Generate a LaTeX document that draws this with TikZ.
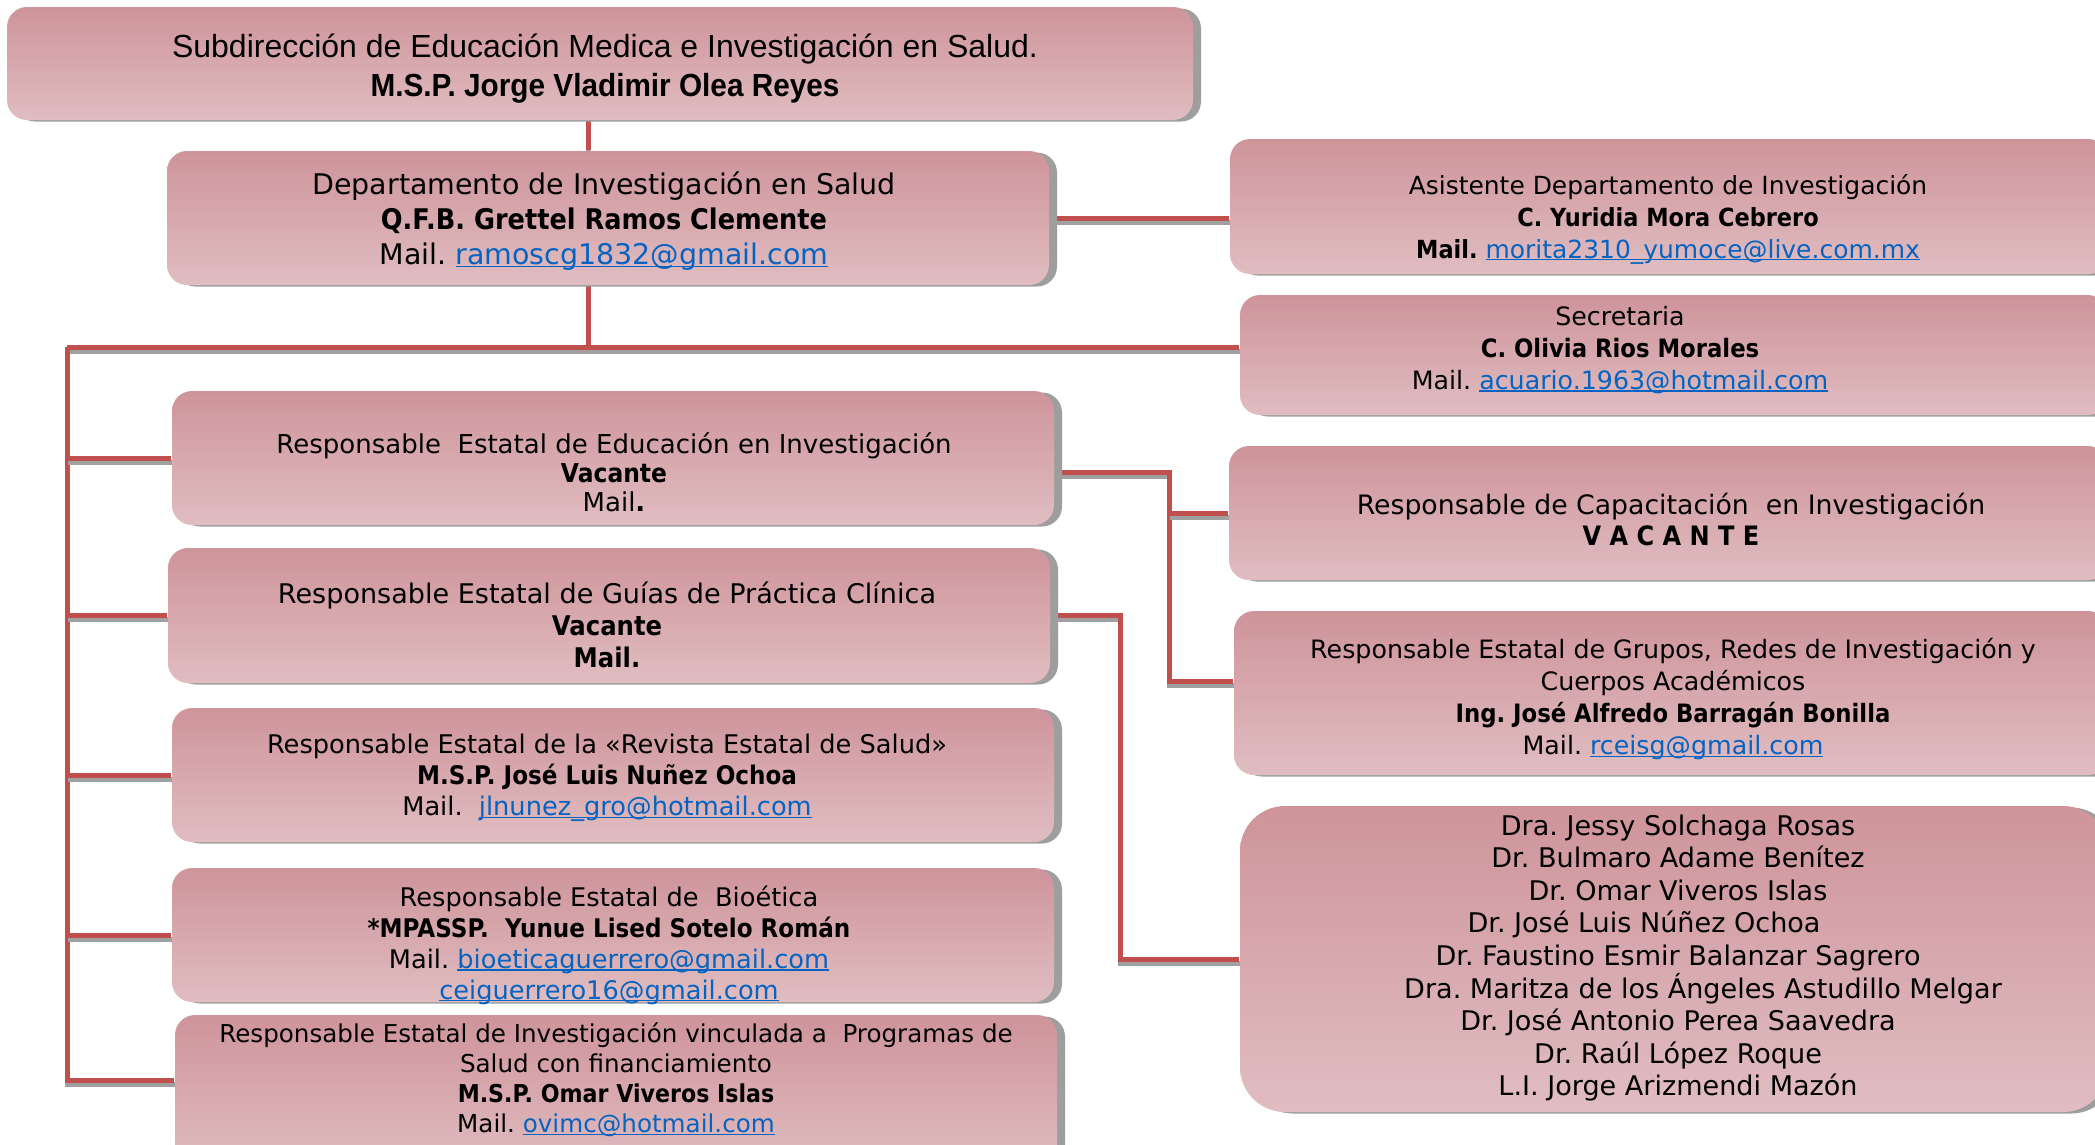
\documentclass[tikz,border=0pt]{standalone}
\usepackage{fontspec}
\setmainfont{DejaVu Sans}
\newfontfamily\titlefont{Liberation Sans}
\newfontfamily\titlename{Liberation Sans}[FakeStretch=0.93]
\newfontfamily\namefont{DejaVu Sans}[FakeStretch=0.9]
\usetikzlibrary{positioning,fit,shadows,backgrounds}
\definecolor{boxtop}{RGB}{206,148,154}
\definecolor{boxbottom}{RGB}{224,189,193}
\definecolor{boxshadow}{RGB}{158,158,158}
\definecolor{linkred}{RGB}{192,80,77}
\definecolor{linkshadow}{RGB}{160,160,160}
\definecolor{linkblue}{RGB}{5,99,193}
\newcommand{\mail}[1]{\textcolor{linkblue}{\setbox0\hbox{#1}%
  \rlap{\rule[-0.7pt]{\wd0}{0.4pt}}\box0}}
\newcommand{\who}[1]{{\namefont\bfseries #1}}
\frenchspacing
\tikzset{%
  every unit/.style={
    rounded corners=2mm,
    top color=boxtop,
    bottom color=boxbottom,
    draw=none,
    inner sep=0pt,
    general shadow={fill=boxshadow, shadow xshift=0.8mm, shadow yshift=-0.15mm}
  },
  unit text/.style 2 args={
    align=center,
    inner sep=0pt,
    font=\fontsize{#1}{#2}\selectfont
  },
  unit link/.style={
    draw=linkred,
    line width=0.5mm,
    preaction={draw=linkshadow, line width=0.5mm,
      transform canvas={xshift=0.05mm, yshift=-0.4mm}}
  },
}

\begin{document}
\begin{tikzpicture}[x=0.1mm, y=-0.1mm]

\useasboundingbox (0,0) rectangle (2095,1144);

% boxes
\node [every unit, fit={(7,7) (1193,120)}] (sub) {};
\node [every unit, fit={(167,151) (1049,285)}] (dept) {};
\node [every unit, fit={(1230,139) (2108,274)}] (asis) {};
\node [every unit, fit={(1240,295) (2108,415)}] (secr) {};
\node [every unit, fit={(172,391) (1054,525)}] (edu) {};
\node [every unit, fit={(1229,446) (2108,580)}] (cap) {};
\node [every unit, fit={(168,548) (1050,683)}] (guias) {};
\node [every unit, fit={(1234,611) (2108,775)}] (grup) {};
\node [every unit, fit={(172,708) (1054,842)}] (rev) {};
\node [every unit, rounded corners=4.5mm, fit={(1240,806) (2108,1112)}] (list) {};
\node [every unit, fit={(172,868) (1054,1002)}] (bio) {};
\node [every unit, fit={(175,1015) (1057,1170)}] (vinc) {};

% texts
\node [unit text={9.1}{11.1}] (sub-text) at (605,68.5)
  {{\titlefont Subdirección de Educación Medica e Investigación en Salud.}\\
   {\titlename\bfseries M.S.P. Jorge Vladimir Olea Reyes}};
\node [unit text={8.1}{10}] (dept-text) at (604,221)
  {Departamento de Investigación en Salud\\
   \who{Q.F.B. Grettel Ramos Clemente}\\
   Mail. \mail{ramoscg1832@gmail.com}};
\node [unit text={7.1}{9.1}] (asis-text) at (1668,219)
  {Asistente Departamento de Investigación\\
   \who{C. Yuridia Mora Cebrero}\\
   \who{Mail.} \mail{morita2310\_yumoce@live.com.mx}};
\node [unit text={7.2}{9.1}] (secr-text) at (1620,350)
  {Secretaria\\
   \who{C. Olivia Rios Morales}\\
   Mail. \mail{acuario.1963@hotmail.com}};
\node [unit text={7.4}{8.3}] (edu-text) at (614,472)
  {Responsable~ Estatal de Educación en Investigación\\
   \who{Vacante}\\
   Mail\textbf{.}};
\node [unit text={7.6}{8.8}] (cap-text) at (1671,519.5)
  {Responsable de Capacitación~ en Investigación\\
   \who{V A C A N T E}};
\node [unit text={7.7}{9.1}] (guias-text) at (607,625)
  {Responsable Estatal de Guías de Práctica Clínica\\
   \who{Vacante}\\
   \who{Mail.}};
\node [unit text={7.2}{9.1}] (grup-text) at (1673,699)
  {Responsable Estatal de Grupos, Redes de Investigación y\\
   Cuerpos Académicos\\
   \who{Ing. José Alfredo Barragán Bonilla}\\
   Mail. \mail{rceisg@gmail.com}};
\node [unit text={7.3}{8.8}] (rev-text) at (607,778)
  {Responsable Estatal de la «Revista Estatal de Salud»\\
   \who{M.S.P. José Luis Nuñez Ochoa}\\
   Mail.~ \mail{jlnunez\_gro@hotmail.com}};
\node [unit text={7.3}{8.8}] (bio-text) at (609,945)
  {Responsable Estatal de~ Bioética\\
   \who{*MPASSP.~ Yunue Lised Sotelo Román}\\
   Mail. \mail{bioeticaguerrero@gmail.com}\\
   \mail{ceiguerrero16@gmail.com}};
\node [unit text={7.0}{8.5}] (vinc-text) at (616,1080)
  {Responsable Estatal de Investigación vinculada a~ Programas de\\
   Salud con financiamiento\\
   \who{M.S.P. Omar Viveros Islas}\\
   Mail. \mail{ovimc@hotmail.com}};
\node [unit text={7.7}{9.25}] (list-text) at (1678,958)
  {Dra. Jessy Solchaga Rosas\\
   Dr. Bulmaro Adame Benítez\\
   Dr. Omar Viveros Islas\\
   Dr. José Luis Núñez Ochoa\rule{6.8mm}{0pt}\\
   Dr. Faustino Esmir Balanzar Sagrero\\
   \rule{5mm}{0pt}Dra. Maritza de los Ángeles Astudillo Melgar\\
   Dr. José Antonio Perea Saavedra\\
   Dr. Raúl López Roque\\
   L.I. Jorge Arizmendi Mazón};

% connectors
\coordinate (trunk) at (588,347);
\coordinate (spine) at (67,347);
\coordinate (bus-cap) at (1169,472);
\coordinate (bus-list) at (1120,616);

\begin{scope}[on background layer]
\draw [unit link] (trunk |- sub.south) -- (trunk |- dept.north);
\draw [unit link] (trunk |- dept.south) -- (trunk);
\draw [unit link] (dept.east) -- (dept.east -| asis.west);
\draw [unit link] (spine) -- (spine -| secr.west);
\draw [unit link] (spine) |- ([yshift=1.2mm]vinc.west);
\foreach \u in {edu,guias,rev,bio}
  \draw [unit link] (spine |- \u.west) -- (\u.west);
\draw [unit link] (bus-cap -| edu.east) -- (bus-cap) |- ([yshift=1.2mm]grup.west);
\draw [unit link] (bus-cap |- cap.west) -- (cap.west);
\draw [unit link] (guias.east) -| (bus-list |- list.west) -- (list.west);
\end{scope}

\end{tikzpicture}
\end{document}
